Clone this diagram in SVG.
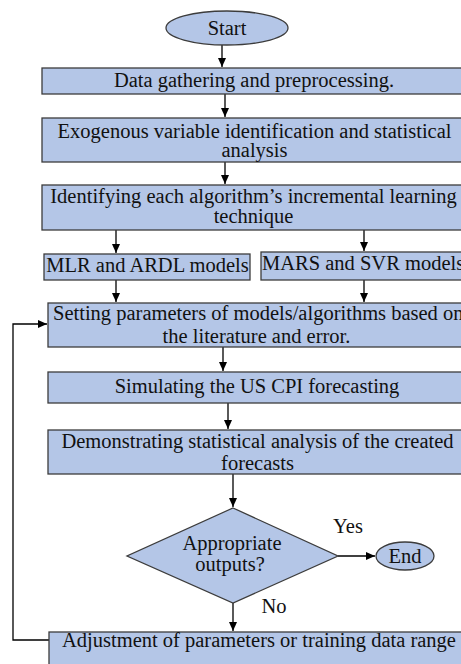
<svg xmlns="http://www.w3.org/2000/svg" width="461" height="664" viewBox="0 0 461 664">
<defs>
<marker id="ah" markerWidth="10" markerHeight="10" refX="9" refY="4" orient="auto" markerUnits="userSpaceOnUse">
<path d="M0,0 L9,4 L0,8 Z" fill="#000"/>
</marker>
<style>
.n{fill:#b4c6e7;stroke:#3c3c3c;stroke-width:1.3}
.t{font-family:"Liberation Serif","Times New Roman",serif;font-size:20.5px;fill:#111;text-anchor:middle}
.c{fill:none;stroke:#000;stroke-width:1.3}
</style>
</defs>
<rect width="461" height="664" fill="#fff"/>
<g id="connectors">
<line class="c" x1="222" y1="45" x2="222" y2="67" marker-end="url(#ah)"/>
<line class="c" x1="225" y1="94" x2="225" y2="117" marker-end="url(#ah)"/>
<line class="c" x1="225" y1="162" x2="225" y2="184" marker-end="url(#ah)"/>
<line class="c" x1="116" y1="230" x2="116" y2="253" marker-end="url(#ah)"/>
<line class="c" x1="364" y1="230" x2="364" y2="251" marker-end="url(#ah)"/>
<line class="c" x1="116" y1="280" x2="116" y2="302" marker-end="url(#ah)"/>
<line class="c" x1="364" y1="280" x2="364" y2="302" marker-end="url(#ah)"/>
<line class="c" x1="223" y1="347" x2="223" y2="371" marker-end="url(#ah)"/>
<line class="c" x1="228" y1="403" x2="228" y2="429" marker-end="url(#ah)"/>
<line class="c" x1="233" y1="474" x2="233" y2="507" marker-end="url(#ah)"/>
<line class="c" x1="338" y1="556" x2="375" y2="556" marker-end="url(#ah)"/>
<line class="c" x1="233" y1="603" x2="233" y2="631" marker-end="url(#ah)"/>
<polyline class="c" points="49,640 13,640 13,324 47,324" marker-end="url(#ah)"/>
</g>
<g id="start"><ellipse class="n" cx="227" cy="28" rx="61" ry="17"/><text class="t" x="227" y="35">Start</text></g>
<g id="data"><rect class="n" x="42" y="68" width="430" height="26"/><text class="t" x="254" y="87">Data gathering and preprocessing.</text></g>
<g id="exo"><rect class="n" x="42" y="118" width="430" height="44"/><text class="t" x="254.5" y="138">Exogenous variable identification and statistical</text><text class="t" x="254.5" y="157">analysis</text></g>
<g id="ident"><rect class="n" x="42" y="185" width="430" height="45"/><text class="t" x="253.5" y="203">Identifying each algorithm’s incremental learning</text><text class="t" x="253.5" y="223">technique</text></g>
<g id="mlr"><rect class="n" x="44" y="254" width="206" height="26"/><text class="t" x="147.5" y="272">MLR and ARDL models</text></g>
<g id="mars"><rect class="n" x="261" y="252" width="220" height="28"/><text class="t" x="262" y="270" style="text-anchor:start">MARS and SVR models</text></g>
<g id="setting"><rect class="n" x="48" y="303" width="430" height="44"/><text class="t" x="53" y="320" style="text-anchor:start">Setting parameters of models/algorithms based on</text><text class="t" x="256.5" y="343">the literature and error.</text></g>
<g id="simulate"><rect class="n" x="48" y="372" width="430" height="31"/><text class="t" x="257" y="393">Simulating the US CPI forecasting</text></g>
<g id="demo"><rect class="n" x="48" y="430" width="430" height="44"/><text class="t" x="257.5" y="448">Demonstrating statistical analysis of the created</text><text class="t" x="257.5" y="470">forecasts</text></g>
<g id="decision"><polygon class="n" points="233,508 338,556 233,603 127,556"/><text class="t" x="232" y="550">Appropriate</text><text class="t" x="230" y="571">outputs?</text></g>
<g id="end"><ellipse class="n" cx="405" cy="556" rx="29" ry="14"/><text class="t" x="405" y="563">End</text></g>
<g id="adjust"><rect class="n" x="49" y="632" width="430" height="40"/><text class="t" x="259" y="647">Adjustment of parameters or training data range</text></g>
<g id="labels"><text class="t" x="348" y="533">Yes</text><text class="t" x="274" y="613">No</text></g>
</svg>
